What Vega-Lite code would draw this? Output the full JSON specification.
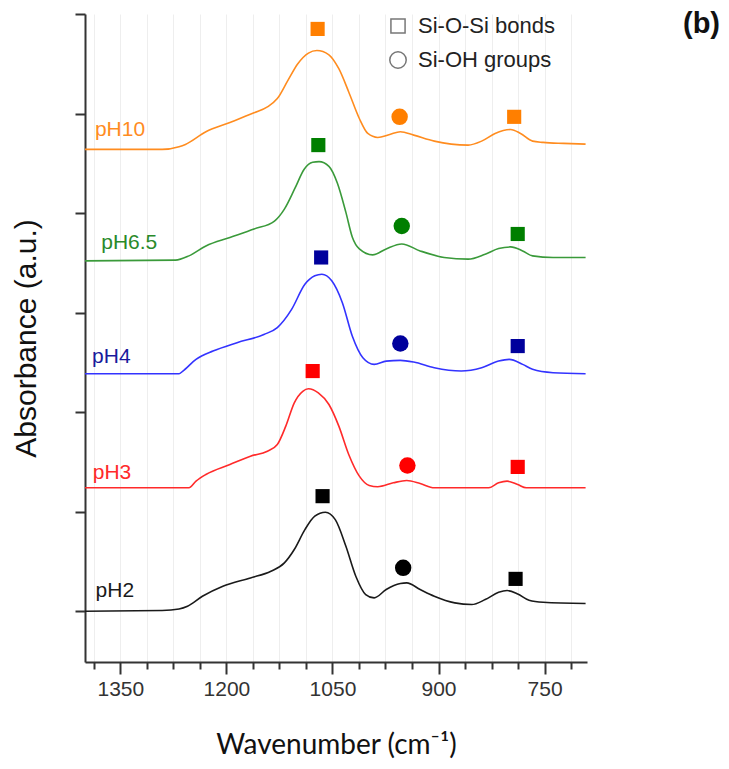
{
  "$schema": "https://vega.github.io/schema/vega-lite/v6.json",
  "autosize": {"type": "none"},
  "padding": {"left": 85, "top": 14, "right": 142, "bottom": 107},
  "width": 502,
  "height": 648,
  "background": "white",
  "config": {"view": {"stroke": null}},
  "title": {"text": "(b)", "anchor": "end", "frame": "group", "orient": "top", "offset": 0, "baseline": "top", "dx": 133, "dy": 26, "font": "Liberation Sans", "fontSize": 29, "fontWeight": "bold", "color": "#111"},
  "datasets": {
    "spectra": [
      {"s":"pH10","w":1400,"a":4.64},{"s":"pH10","w":1291,"a":4.64},{"s":"pH10","w":1267,"a":4.667},{"s":"pH10","w":1258,"a":4.69},{"s":"pH10","w":1229,"a":4.817},{"s":"pH10","w":1195,"a":4.91},{"s":"pH10","w":1161,"a":5.007},{"s":"pH10","w":1142,"a":5.067},{"s":"pH10","w":1128,"a":5.15},{"s":"pH10","w":1113,"a":5.333},{"s":"pH10","w":1099,"a":5.5},{"s":"pH10","w":1084,"a":5.607},{"s":"pH10","w":1072,"a":5.633},{"s":"pH10","w":1055,"a":5.59},{"s":"pH10","w":1041,"a":5.45},{"s":"pH10","w":1027,"a":5.217},{"s":"pH10","w":1012,"a":4.95},{"s":"pH10","w":1000,"a":4.8},{"s":"pH10","w":986,"a":4.76},{"s":"pH10","w":969,"a":4.79},{"s":"pH10","w":954,"a":4.817},{"s":"pH10","w":935,"a":4.783},{"s":"pH10","w":906,"a":4.723},{"s":"pH10","w":882,"a":4.693},{"s":"pH10","w":858,"a":4.683},{"s":"pH10","w":839,"a":4.723},{"s":"pH10","w":820,"a":4.8},{"s":"pH10","w":798,"a":4.84},{"s":"pH10","w":784,"a":4.8},{"s":"pH10","w":767,"a":4.723},{"s":"pH10","w":752,"a":4.71},{"s":"pH10","w":723,"a":4.7},{"s":"pH10","w":692,"a":4.693},
      {"s":"pH6.5","w":1400,"a":3.52},{"s":"pH6.5","w":1272,"a":3.527},{"s":"pH6.5","w":1253,"a":3.57},{"s":"pH6.5","w":1229,"a":3.67},{"s":"pH6.5","w":1195,"a":3.755},{"s":"pH6.5","w":1161,"a":3.84},{"s":"pH6.5","w":1132,"a":3.92},{"s":"pH6.5","w":1118,"a":4.04},{"s":"pH6.5","w":1103,"a":4.25},{"s":"pH6.5","w":1090,"a":4.44},{"s":"pH6.5","w":1078,"a":4.51},{"s":"pH6.5","w":1069,"a":4.517},{"s":"pH6.5","w":1055,"a":4.47},{"s":"pH6.5","w":1043,"a":4.3},{"s":"pH6.5","w":1031,"a":4.007},{"s":"pH6.5","w":1022,"a":3.76},{"s":"pH6.5","w":1012,"a":3.64},{"s":"pH6.5","w":993,"a":3.58},{"s":"pH6.5","w":974,"a":3.64},{"s":"pH6.5","w":952,"a":3.69},{"s":"pH6.5","w":926,"a":3.62},{"s":"pH6.5","w":892,"a":3.554},{"s":"pH6.5","w":858,"a":3.537},{"s":"pH6.5","w":834,"a":3.587},{"s":"pH6.5","w":815,"a":3.644},{"s":"pH6.5","w":798,"a":3.66},{"s":"pH6.5","w":781,"a":3.62},{"s":"pH6.5","w":767,"a":3.57},{"s":"pH6.5","w":738,"a":3.554},{"s":"pH6.5","w":692,"a":3.554},
      {"s":"pH4","w":1400,"a":2.386},{"s":"pH4","w":1267,"a":2.386},{"s":"pH4","w":1262,"a":2.41},{"s":"pH4","w":1243,"a":2.53},{"s":"pH4","w":1219,"a":2.614},{"s":"pH4","w":1185,"a":2.698},{"s":"pH4","w":1147,"a":2.78},{"s":"pH4","w":1128,"a":2.85},{"s":"pH4","w":1108,"a":3.03},{"s":"pH4","w":1089,"a":3.285},{"s":"pH4","w":1075,"a":3.37},{"s":"pH4","w":1065,"a":3.386},{"s":"pH4","w":1051,"a":3.32},{"s":"pH4","w":1036,"a":3.1},{"s":"pH4","w":1022,"a":2.765},{"s":"pH4","w":1007,"a":2.547},{"s":"pH4","w":991,"a":2.48},{"s":"pH4","w":974,"a":2.513},{"s":"pH4","w":954,"a":2.52},{"s":"pH4","w":935,"a":2.503},{"s":"pH4","w":906,"a":2.446},{"s":"pH4","w":868,"a":2.413},{"s":"pH4","w":839,"a":2.446},{"s":"pH4","w":815,"a":2.513},{"s":"pH4","w":800,"a":2.53},{"s":"pH4","w":781,"a":2.48},{"s":"pH4","w":767,"a":2.43},{"s":"pH4","w":738,"a":2.396},{"s":"pH4","w":692,"a":2.386},
      {"s":"pH3","w":1400,"a":1.24},{"s":"pH3","w":1253,"a":1.24},{"s":"pH3","w":1243,"a":1.307},{"s":"pH3","w":1229,"a":1.374},{"s":"pH3","w":1195,"a":1.474},{"s":"pH3","w":1166,"a":1.558},{"s":"pH3","w":1142,"a":1.608},{"s":"pH3","w":1128,"a":1.675},{"s":"pH3","w":1116,"a":1.86},{"s":"pH3","w":1104,"a":2.094},{"s":"pH3","w":1092,"a":2.21},{"s":"pH3","w":1084,"a":2.235},{"s":"pH3","w":1070,"a":2.194},{"s":"pH3","w":1055,"a":2.077},{"s":"pH3","w":1041,"a":1.86},{"s":"pH3","w":1027,"a":1.575},{"s":"pH3","w":1012,"a":1.357},{"s":"pH3","w":998,"a":1.263},{"s":"pH3","w":986,"a":1.25},{"s":"pH3","w":964,"a":1.29},{"s":"pH3","w":945,"a":1.313},{"s":"pH3","w":926,"a":1.283},{"s":"pH3","w":906,"a":1.24},{"s":"pH3","w":829,"a":1.24},{"s":"pH3","w":815,"a":1.29},{"s":"pH3","w":803,"a":1.307},{"s":"pH3","w":788,"a":1.273},{"s":"pH3","w":776,"a":1.24},{"s":"pH3","w":692,"a":1.24},
      {"s":"pH2","w":1400,"a":0.0},{"s":"pH2","w":1291,"a":0.007},{"s":"pH2","w":1267,"a":0.023},{"s":"pH2","w":1255,"a":0.05},{"s":"pH2","w":1234,"a":0.15},{"s":"pH2","w":1205,"a":0.251},{"s":"pH2","w":1166,"a":0.335},{"s":"pH2","w":1137,"a":0.402},{"s":"pH2","w":1118,"a":0.486},{"s":"pH2","w":1104,"a":0.62},{"s":"pH2","w":1089,"a":0.82},{"s":"pH2","w":1075,"a":0.955},{"s":"pH2","w":1060,"a":0.995},{"s":"pH2","w":1046,"a":0.92},{"s":"pH2","w":1031,"a":0.653},{"s":"pH2","w":1017,"a":0.352},{"s":"pH2","w":1003,"a":0.168},{"s":"pH2","w":991,"a":0.134},{"s":"pH2","w":974,"a":0.218},{"s":"pH2","w":954,"a":0.278},{"s":"pH2","w":945,"a":0.285},{"s":"pH2","w":926,"a":0.218},{"s":"pH2","w":906,"a":0.151},{"s":"pH2","w":877,"a":0.084},{"s":"pH2","w":853,"a":0.067},{"s":"pH2","w":834,"a":0.117},{"s":"pH2","w":815,"a":0.19},{"s":"pH2","w":803,"a":0.208},{"s":"pH2","w":788,"a":0.174},{"s":"pH2","w":772,"a":0.111},{"s":"pH2","w":752,"a":0.09},{"s":"pH2","w":692,"a":0.077}
    ],
    "markers": [
      {"s":"pH10","w":1071,"a":5.85,"k":"Si-O-Si bonds"},{"s":"pH10","w":955,"a":4.967,"k":"Si-OH groups"},{"s":"pH10","w":793,"a":4.967,"k":"Si-O-Si bonds"},
      {"s":"pH6.5","w":1070,"a":4.683,"k":"Si-O-Si bonds"},{"s":"pH6.5","w":952,"a":3.87,"k":"Si-OH groups"},{"s":"pH6.5","w":788,"a":3.79,"k":"Si-O-Si bonds"},
      {"s":"pH4","w":1066,"a":3.554,"k":"Si-O-Si bonds"},{"s":"pH4","w":954,"a":2.69,"k":"Si-OH groups"},{"s":"pH4","w":788,"a":2.664,"k":"Si-O-Si bonds"},
      {"s":"pH3","w":1078,"a":2.413,"k":"Si-O-Si bonds"},{"s":"pH3","w":944,"a":1.464,"k":"Si-OH groups"},{"s":"pH3","w":788,"a":1.45,"k":"Si-O-Si bonds"},
      {"s":"pH2","w":1064,"a":1.156,"k":"Si-O-Si bonds"},{"s":"pH2","w":950,"a":0.436,"k":"Si-OH groups"},{"s":"pH2","w":791,"a":0.325,"k":"Si-O-Si bonds"}
    ],
    "labels": [
      {"s":"pH10","w":1386,"a":4.833},
      {"s":"pH6.5","w":1377,"a":3.70},
      {"s":"pH4","w":1390,"a":2.553},
      {"s":"pH3","w":1389,"a":1.387},
      {"s":"pH2","w":1385,"a":0.201}
    ]
  },
  "encoding": {
    "x": {"field": "w", "type": "quantitative",
      "scale": {"domain": [690, 1400], "reverse": true, "nice": false, "zero": false},
      "axis": {
        "values": [1387.5,1350,1312.5,1275,1237.5,1200,1162.5,1125,1087.5,1050,1012.5,975,937.5,900,862.5,825,787.5,750,712.5],
        "labelExpr": "datum.value % 150 === 0 ? format(datum.value, 'd') : ''",
        "labelOverlap": false, "labelFlush": false,
        "tickSize": {"condition": {"test": "datum.value % 150 === 0", "value": 12}, "value": 7},
        "tickWidth": 2, "tickColor": "#333",
        "domainColor": "#333", "domainWidth": 2,
        "grid": true, "gridColor": "#eeeeee", "gridWidth": 1,
        "labelFont": "Liberation Sans", "labelFontSize": 21, "labelColor": "#333", "labelPadding": 4,
        "title": "Wavenumber (cm⁻¹)", "titleFont": "Lato", "titleFontSize": 28, "titleFontWeight": "normal", "titleColor": "#111", "titlePadding": 32
      }
    },
    "y": {"field": "a", "type": "quantitative",
      "scale": {"domain": [-0.51, 6], "nice": false, "zero": false},
      "axis": {
        "values": [0,1,2,3,4,5,6], "labels": false,
        "tickSize": 10, "tickWidth": 2, "tickColor": "#333",
        "domainColor": "#333", "domainWidth": 2, "grid": false,
        "title": "Absorbance (a.u.)", "titleFont": "Liberation Sans", "titleFontSize": 30, "titleFontWeight": "normal", "titleColor": "#111", "titlePadding": 33
      }
    }
  },
  "layer": [
    {
      "data": {"name": "spectra"},
      "mark": {"type": "line", "interpolate": "monotone", "strokeWidth": 1.6},
      "encoding": {
        "color": {"field": "s", "type": "nominal", "legend": null,
          "scale": {"domain": ["pH10","pH6.5","pH4","pH3","pH2"], "range": ["#ff8c1f","#3a9a3a","#3333ff","#ff2a2a","#1a1a1a"]}}
      }
    },
    {
      "data": {"name": "markers"},
      "mark": {"type": "point", "filled": true, "opacity": 1},
      "encoding": {
        "color": {"field": "s", "type": "nominal", "legend": null,
          "scale": {"domain": ["pH10","pH6.5","pH4","pH3","pH2"], "range": ["#ff7f00","#007f00","#00009c","#ff0000","#000000"]}},
        "size": {"field": "k", "type": "nominal",
          "scale": {"domain": ["Si-O-Si bonds","Si-OH groups"], "range": [200, 270]},
          "legend": {"orient": "none", "legendX": 302, "legendY": 1, "title": null, "padding": 0,
            "symbolFillColor": "white", "symbolStrokeColor": "#777", "symbolStrokeWidth": 1.5,
            "labelFont": "Liberation Sans", "labelFontSize": 22, "labelColor": "#222", "labelOffset": 9, "rowPadding": 11}},
        "shape": {"field": "k", "type": "nominal",
          "scale": {"domain": ["Si-O-Si bonds","Si-OH groups"], "range": ["square","circle"]},
          "legend": {"orient": "none", "legendX": 302, "legendY": 1, "title": null, "padding": 0,
            "symbolFillColor": "white", "symbolStrokeColor": "#777", "symbolStrokeWidth": 1.5,
            "labelFont": "Liberation Sans", "labelFontSize": 22, "labelColor": "#222", "labelOffset": 9, "rowPadding": 11}}
      }
    },
    {
      "data": {"name": "labels"},
      "mark": {"type": "text", "align": "left", "baseline": "middle", "font": "Liberation Sans", "fontSize": 21},
      "encoding": {
        "text": {"field": "s"},
        "color": {"field": "s", "type": "nominal", "legend": null,
          "scale": {"domain": ["pH10","pH6.5","pH4","pH3","pH2"], "range": ["#ff8c1f","#2a8a2a","#1a1a9c","#ff2a2a","#1a1a1a"]}}
      }
    }
  ],
  "resolve": {"scale": {"color": "independent"}}
}
